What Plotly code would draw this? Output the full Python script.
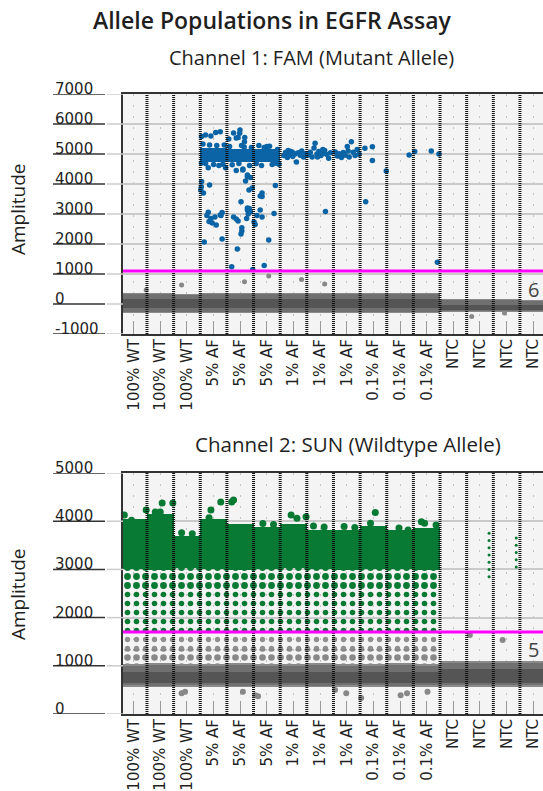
import plotly.graph_objects as go

# ---------------- data ----------------
wells = list(range(16))
categories = ["100% WT"] * 3 + ["5% AF"] * 3 + ["1% AF"] * 3 + ["0.1% AF"] * 3 + ["NTC"] * 4

main_title = "Allele Populations in EGFR Assay"
ch1_title = "Channel 1: FAM (Mutant Allele)"
ch2_title = "Channel 2: SUN (Wildtype Allele)"
y_title = "Amplitude"

ch1_ticks = [-1000, 0, 1000, 2000, 3000, 4000, 5000, 6000, 7000]
ch2_ticks = [0, 1000, 2000, 3000, 4000, 5000]
ch1_range = [-1000, 7000]
ch2_range = [0, 5000]
ch1_threshold = 1100
ch2_threshold = 1700
ch1_corner_label = "6"
ch2_corner_label = "5"

# Channel 1 negative (gray) droplet band per well
ch1_neg_lo = [-250, -260, -250, -260, -250, -260, -250, -260, -250, -260, -250, -260, -230, -230, -230, -230]
ch1_neg_hi = [320, 330, 310, 330, 340, 320, 330, 320, 340, 320, 330, 320, 130, 120, 130, 110]
ch1_core_lo = [-130] * 12 + [-200] * 4
ch1_core_hi = [170, 160, 170, 180, 170, 160, 170, 170, 160, 170, 170, 160, -30, -40, -30, -40]

# Channel 1 dense positive (blue) cluster
ch1_cluster_wells = [3, 4, 5]
ch1_cluster_lo = [4730, 4750, 4740]
ch1_cluster_hi = [5200, 5160, 5170]

# Channel 1 individual positive droplets: well, position inside well (0..1), amplitude
blue_well = ([3] * 33 + [4] * 40 + [5] * 22 + [6] * 15 + [7] * 16 + [8] * 15
             + [9] * 5 + [10] * 1 + [11] * 4)
blue_frac = [
    # well 3
    0.05, 0.20, 0.58, 0.75, 0.40, 0.30, 0.95, 0.05, 0.04, 0.12, 0.35, 0.02, 0.30, 0.25, 0.40,
    0.33, 0.45, 0.60, 0.78, 0.82, 0.75, 0.15, 0.82, 0.55, 0.10, 0.35, 0.50, 0.70, 0.90,
    0.20, 0.62, 0.05, 0.85,
    # well 4
    0.07, 0.25, 0.49, 0.42, 0.67, 0.48, 0.35, 0.66, 0.35, 0.60, 0.77, 0.70, 0.88, 0.60, 0.77,
    0.83, 0.95, 0.53, 0.25, 0.35, 0.42, 0.56, 0.53, 0.56, 0.39, 0.18, 0.97, 0.77, 0.84, 0.88,
    0.77, 0.80, 0.74, 0.20, 0.55, 0.85, 0.10, 0.45, 0.65, 0.92,
    # well 5
    0.02, 0.06, 0.25, 0.32, 0.32, 0.25, 0.32, 0.13, 0.57, 0.40, 0.82, 0.77, 0.20, 0.50, 0.70,
    0.30, 0.90, 0.10, 0.60, 0.40, 0.80, 0.95,
    # well 6
    0.14, 0.20, 0.27, 0.34, 0.41, 0.47, 0.54, 0.61, 0.68, 0.75, 0.81, 0.88, 0.95, 0.50, 0.30,
    # well 7
    0.05, 0.13, 0.20, 0.27, 0.31, 0.38, 0.45, 0.53, 0.60, 0.67, 0.75, 0.82, 0.89, 0.70, 0.40, 0.60,
    # well 8
    0.07, 0.15, 0.22, 0.30, 0.37, 0.44, 0.52, 0.59, 0.67, 0.74, 0.81, 0.89, 0.96, 0.35, 0.55,
    # well 9
    0.18, 0.46, 0.46, 0.21, 0.98,
    # well 10
    0.84,
    # well 11
    0.05, 0.67, 0.96, 0.90,
]
blue_amp = [
    # well 3
    5580, 5630, 5720, 5740, 5600, 4540, 4540, 4080, 3910, 3700, 3970, 3800, 3060, 2950, 2850,
    2750, 2700, 2630, 2950, 3050, 2970, 2070, 2170, 2900, 5330, 5300, 4650, 4620, 5300,
    4680, 5280, 4700, 4660,
    # well 4
    5500, 5700, 5800, 5550, 5550, 5690, 5530, 5410, 4450, 4500, 4250, 4100, 4220, 4470, 4300,
    3800, 3870, 3410, 2900, 2830, 2770, 2540, 2330, 2430, 1830, 1240, 1150, 3130, 3180, 3070,
    3200, 3000, 2850, 4640, 5280, 4620, 5250, 4680, 5230, 5220,
    # well 5
    2730, 2650, 3600, 3700, 3580, 3130, 2900, 2950, 2130, 1280, 3950, 3020, 5280, 5250, 4650,
    4620, 5150, 4680, 5260, 5220, 4690, 4660,
    # well 6
    4950, 5050, 4880, 5000, 5080, 4920, 4990, 4730, 5040, 4960, 5100, 4900, 5010, 5030, 5120,
    # well 7
    4970, 5060, 4900, 5200, 5360, 5000, 5080, 4950, 5020, 5120, 4980, 4860, 5040, 3080, 4900, 5150,
    # well 8
    5070, 4930, 5010, 4880, 5050, 4960, 5250, 4900, 5410, 5060, 4950, 5150, 4990, 4990, 5100,
    # well 9
    5190, 5240, 4780, 3410, 4430,
    # well 10
    4970,
    # well 11
    5080, 5100, 5000, 1390,
]

# Channel 1 stray gray droplets above/below the band
ch1_gray_well = [0, 2, 4, 5, 6, 7, 13, 14]
ch1_gray_frac = [0.97, 0.30, 0.66, 0.57, 0.80, 0.67, 0.19, 0.42]
ch1_gray_amp = [470, 630, 740, 930, 820, 670, -420, -300]

# Channel 2 negative (gray) band, rain and positive (green) cluster per well
ch2_neg_lo = [600, 590, 600, 600, 590, 600, 600, 590, 600, 600, 590, 600, 600, 600, 600, 600]
ch2_neg_hi = [1000, 1010, 1000, 1000, 1010, 1000, 1000, 1010, 1000, 1000, 1010, 1000, 1060, 1050, 1060, 1050]
ch2_core_lo = [650] * 16
ch2_core_hi = [880] * 12 + [930] * 4
ch2_rain_wells = list(range(12))
ch2_gray_rain_split = 1350
ch2_green_rain_split = 2600
ch2_pos_lo = [3000, 2980, 3020, 3000, 2980, 3000, 3020, 3000, 2980, 3000, 3000, 2990]
ch2_pos_hi = [4050, 4150, 3700, 4050, 3950, 3880, 3950, 3820, 3820, 3900, 3820, 3860]

# Channel 2 individual green droplets around the dense cluster edge
green_well = [0, 0, 0, 1, 1, 1, 1, 3, 3, 3, 4, 4, 6, 6, 6, 9, 9, 10, 10, 11, 11, 11,
              2, 2, 5, 5, 7, 7, 8, 8]
green_frac = [0.15, 0.42, 0.97, 0.31, 0.50, 0.57, 0.97, 0.40, 0.33, 0.77, 0.18, 0.25,
              0.41, 0.63, 0.97, 0.57, 0.39, 0.46, 0.80, 0.30, 0.42, 0.85,
              0.30, 0.70, 0.35, 0.75, 0.25, 0.65, 0.40, 0.80]
green_amp = [4130, 4020, 4230, 4190, 4190, 4380, 4380, 4230, 4070, 4400, 4400, 4440,
             4130, 4060, 4090, 4180, 3960, 3860, 3820, 3990, 3960, 3920,
             3760, 3740, 3950, 3930, 3900, 3880, 3890, 3870]
# sparse green droplets in NTC wells
green_ntc_well = [13] * 7 + [14] * 5
green_ntc_frac = [0.84] * 7 + [0.86] * 5
green_ntc_amp = [3750, 3600, 3450, 3300, 3150, 3000, 2850, 3650, 3500, 3350, 3200, 3050]

# Channel 2 stray gray droplets
ch2_gray_well = [2, 2, 4, 5, 5, 8, 8, 9, 10, 10, 11, 13, 14]
ch2_gray_frac = [0.30, 0.43, 0.60, 0.06, 0.17, 0.06, 0.48, 0.04, 0.52, 0.76, 0.53, 0.12, 0.35]
ch2_gray_amp = [430, 460, 460, 390, 370, 500, 430, 330, 390, 430, 460, 1640, 1535]

# ---------------- styling ----------------
BLUE = "#0a64a6"
GREEN = "#087a33"
GRAY_PT = "#888888"
BAND = "#707070"
CORE = "#555555"
MAGENTA = "#ff00ff"
TXT = "#1f1f1f"
LABEL_FONT = "DejaVu Sans"
TITLE_FONT = "Open Sans"

W, H = 543, 791
L = 123
PLOT_W = W - L
top_px, bot_px = (94, 334), (473, 714)
XR = [-0.40, 15.365]


def px_y(py):
    return 1 - py / H


def xs(well_list, frac_list):
    return [w - 0.5 + f for w, f in zip(well_list, frac_list)]


def band(xa, ya, xwells, lo, hi, color, pattern=None):
    marker = dict(color=color, line=dict(width=0))
    if pattern:
        marker["pattern"] = pattern
    return go.Bar(x=xwells, base=lo, y=[h - l for l, h in zip(lo, hi)], width=1,
                  marker=marker, xaxis=xa, yaxis=ya, showlegend=False, hoverinfo="skip")


def dots(color, solidity, size=8):
    return dict(shape=".", fgcolor=color, bgcolor="rgba(0,0,0,0)", size=size,
                solidity=solidity, fgopacity=1)


fig = go.Figure()

# ---- channel 1 ----
fig.add_trace(band("x", "y", wells, [v - 40 for v in ch1_neg_lo], [v + 40 for v in ch1_neg_hi], "#8a8a8a"))
fig.add_trace(band("x", "y", wells, ch1_neg_lo, ch1_neg_hi, BAND))
fig.add_trace(band("x", "y", wells, ch1_core_lo, ch1_core_hi, CORE))
fig.add_trace(band("x", "y", ch1_cluster_wells, ch1_cluster_lo, ch1_cluster_hi, BLUE))
fig.add_trace(go.Scatter(x=xs(ch1_gray_well, ch1_gray_frac), y=ch1_gray_amp, mode="markers",
                         marker=dict(color=GRAY_PT, size=5), xaxis="x", yaxis="y",
                         showlegend=False, hoverinfo="skip"))
fig.add_trace(go.Scatter(x=xs(blue_well, blue_frac), y=blue_amp, mode="markers",
                         marker=dict(color=BLUE, size=5.5), xaxis="x", yaxis="y",
                         showlegend=False, hoverinfo="skip"))

# ---- channel 2 ----
n_rain = len(ch2_rain_wells)
rain_lo = [ch2_neg_hi[w] for w in ch2_rain_wells]
fig.add_trace(band("x2", "y2", ch2_rain_wells, rain_lo, [ch2_gray_rain_split] * n_rain, GRAY_PT,
                   dots(GRAY_PT, 0.42, 9)))
fig.add_trace(band("x2", "y2", ch2_rain_wells, [ch2_gray_rain_split] * n_rain, [ch2_threshold] * n_rain,
                   GRAY_PT, dots("#909090", 0.28, 9)))
fig.add_trace(band("x2", "y2", wells, [v - 30 for v in ch2_neg_lo], [v + 40 for v in ch2_neg_hi], "#8a8a8a"))
fig.add_trace(band("x2", "y2", wells, ch2_neg_lo, ch2_neg_hi, BAND))
fig.add_trace(band("x2", "y2", wells, ch2_core_lo, ch2_core_hi, CORE))
fig.add_trace(band("x2", "y2", ch2_rain_wells, [ch2_threshold] * n_rain, [ch2_green_rain_split] * n_rain,
                   GREEN, dots(GREEN, 0.3, 9)))
fig.add_trace(band("x2", "y2", ch2_rain_wells, [ch2_green_rain_split] * n_rain, ch2_pos_lo,
                   GREEN, dots(GREEN, 0.45, 9)))
fig.add_trace(band("x2", "y2", ch2_rain_wells, ch2_pos_lo, ch2_pos_hi, GREEN))
fig.add_trace(go.Scatter(x=xs(ch2_gray_well, ch2_gray_frac), y=ch2_gray_amp, mode="markers",
                         marker=dict(color=GRAY_PT, size=6), xaxis="x2", yaxis="y2",
                         showlegend=False, hoverinfo="skip"))
fig.add_trace(go.Scatter(x=xs(green_well, green_frac), y=green_amp, mode="markers",
                         marker=dict(color=GREEN, size=7), xaxis="x2", yaxis="y2",
                         showlegend=False, hoverinfo="skip"))
fig.add_trace(go.Scatter(x=xs(green_ntc_well, green_ntc_frac), y=green_ntc_amp, mode="markers",
                         marker=dict(color=GREEN, size=3), xaxis="x2", yaxis="y2",
                         showlegend=False, hoverinfo="skip"))

# ---- axes ----
xcommon = dict(range=XR, tickmode="array", tickvals=wells, ticktext=categories, tickangle=-90,
               tickfont=dict(family=LABEL_FONT, size=15, color=TXT), ticks="inside", ticklen=13,
               tickcolor="#9a9a9a", tickwidth=1, showline=True, linecolor="#333333", linewidth=2,
               mirror=True, showgrid=True, gridcolor="#c4c4c4", gridwidth=1, griddash="2px,9px",
               zeroline=False, automargin=False, fixedrange=True, ticklabelstandoff=-3)
ycommon = dict(showticklabels=False, ticks="", showline=True, linecolor="#333333", linewidth=2,
               showgrid=True, gridcolor="#cacaca", gridwidth=1.5, zeroline=False,
               automargin=False, fixedrange=True, tickmode="array")

fig.update_layout(
    width=W, height=H, margin=dict(l=L, r=0, t=0, b=0),
    paper_bgcolor="white", plot_bgcolor="#f4f4f4", barmode="overlay", bargap=0,
    showlegend=False,
    xaxis=dict(xcommon, domain=[0, 1], anchor="y"),
    yaxis=dict(ycommon, domain=[px_y(top_px[1]), px_y(top_px[0])], range=ch1_range,
               tickvals=ch1_ticks, anchor="x"),
    xaxis2=dict(xcommon, domain=[0, 1], anchor="y2"),
    yaxis2=dict(ycommon, domain=[px_y(bot_px[1]), px_y(bot_px[0])], range=ch2_range,
                tickvals=ch2_ticks, anchor="x2"),
)

shapes = []
annotations = []
ux0, ux1 = (53 - L) / PLOT_W, (105 - L) / PLOT_W
gx0 = (107 - L) / PLOT_W
for xa, ya, ticks, thr in (("x", "y", ch1_ticks, ch1_threshold), ("x2", "y2", ch2_ticks, ch2_threshold)):
    # well dividers
    for i in range(len(wells) - 1):
        shapes.append(dict(type="line", xref=xa, yref=ya + " domain", x0=i + 0.5, x1=i + 0.5,
                           y0=0, y1=1, layer="above",
                           line=dict(color="#111111", width=3, dash="1px,1px")))
    # threshold
    shapes.append(dict(type="line", xref=xa + " domain", yref=ya, x0=0, x1=1, y0=thr, y1=thr,
                       layer="above", line=dict(color=MAGENTA, width=3)))
    # underlined tick labels
    for t in ticks:
        shapes.append(dict(type="line", xref="paper", yref=ya, x0=ux0, x1=ux1, y0=t, y1=t,
                           line=dict(color="#333333", width=1.5)))
        shapes.append(dict(type="line", xref="paper", yref=ya, x0=gx0, x1=0, y0=t, y1=t,
                           line=dict(color="#cccccc", width=1.5)))
        annotations.append(dict(text=str(t), xref="paper", yref=ya, x=ux0, y=t, xanchor="left",
                                yanchor="bottom", yshift=-6, showarrow=False,
                                font=dict(family=LABEL_FONT, size=15, color=TXT)))


def pann(text, px, py, size, weight=400, angle=0, family=TITLE_FONT, color=TXT):
    return dict(text=text, xref="paper", yref="paper", x=(px - L) / PLOT_W, y=px_y(py),
                xanchor="center", yanchor="middle", showarrow=False, textangle=angle,
                font=dict(family=family, size=size, color=color, weight=weight))


annotations += [
    pann(main_title, 272, 20, 23, weight=600),
    pann(ch1_title, 311, 58, 20),
    pann(ch2_title, 348, 444, 20.5),
    pann(y_title, 18, 209, 19, angle=-90),
    pann(y_title, 18, 594, 19, angle=-90),
    pann(ch1_corner_label, 533, 289, 20, color="#444444"),
    pann(ch2_corner_label, 533, 649, 20, color="#444444"),
]
fig.update_layout(shapes=shapes, annotations=annotations)

fig.write_html("out.html")
